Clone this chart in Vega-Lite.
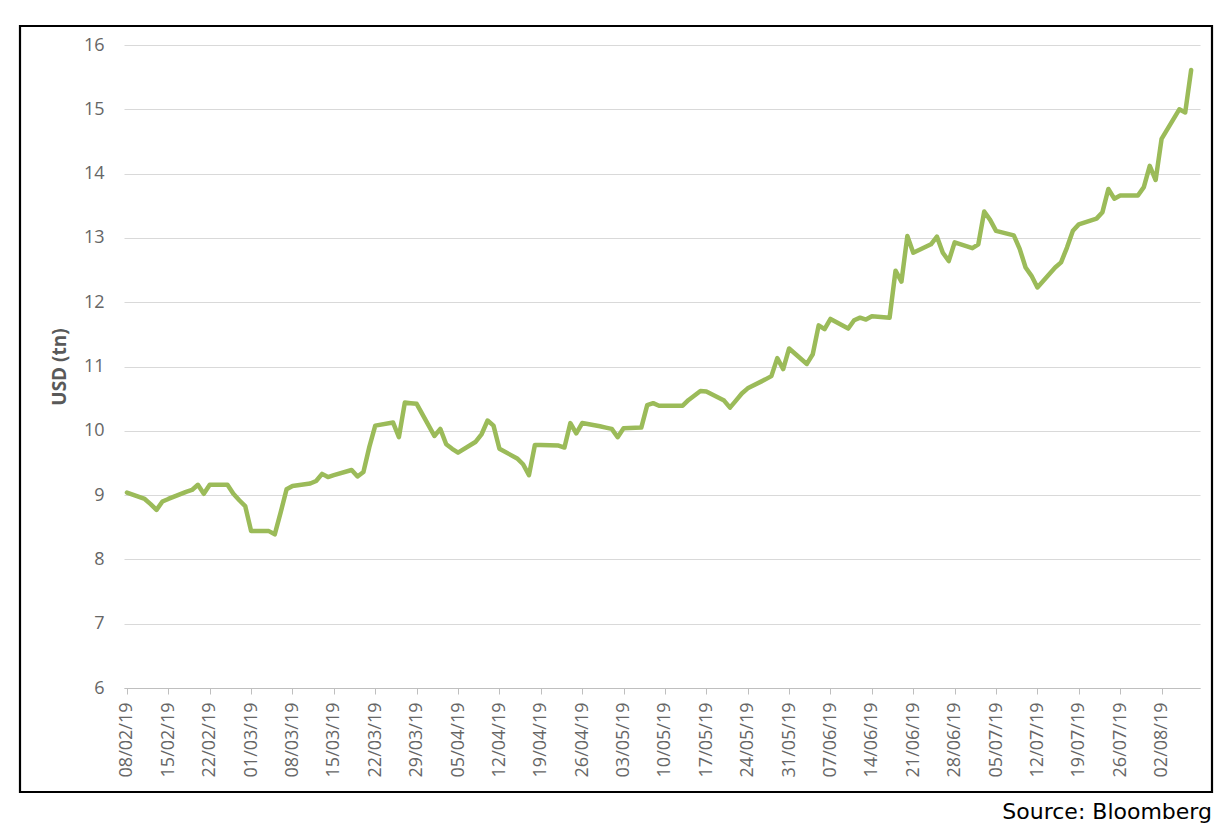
{
  "$schema": "https://vega.github.io/schema/vega-lite/v6.json",
  "autosize": "none",
  "padding": {"left": 20, "top": 26, "right": 20, "bottom": 44},
  "width": 1192,
  "height": 766,
  "background": "white",
  "config": {
    "view": {"stroke": "#000000", "strokeWidth": 2.2},
    "font": "Open Sans"
  },
  "title": {
    "text": "Source: Bloomberg",
    "orient": "bottom",
    "anchor": "end",
    "frame": "group",
    "font": "DejaVu Sans",
    "fontSize": 22,
    "fontWeight": "normal",
    "color": "#000000",
    "offset": 10
  },
  "data": {
    "values": [
      {"date": "2019-02-08", "usd": 9.04},
      {"date": "2019-02-11", "usd": 8.94},
      {"date": "2019-02-12", "usd": 8.86},
      {"date": "2019-02-13", "usd": 8.77},
      {"date": "2019-02-14", "usd": 8.90},
      {"date": "2019-02-15", "usd": 8.94},
      {"date": "2019-02-18", "usd": 9.05},
      {"date": "2019-02-19", "usd": 9.08},
      {"date": "2019-02-20", "usd": 9.16},
      {"date": "2019-02-21", "usd": 9.02},
      {"date": "2019-02-22", "usd": 9.16},
      {"date": "2019-02-25", "usd": 9.16},
      {"date": "2019-02-26", "usd": 9.02},
      {"date": "2019-02-27", "usd": 8.92},
      {"date": "2019-02-28", "usd": 8.83},
      {"date": "2019-03-01", "usd": 8.44},
      {"date": "2019-03-04", "usd": 8.44},
      {"date": "2019-03-05", "usd": 8.39},
      {"date": "2019-03-06", "usd": 8.73},
      {"date": "2019-03-07", "usd": 9.09},
      {"date": "2019-03-08", "usd": 9.14},
      {"date": "2019-03-11", "usd": 9.18},
      {"date": "2019-03-12", "usd": 9.22},
      {"date": "2019-03-13", "usd": 9.33},
      {"date": "2019-03-14", "usd": 9.28},
      {"date": "2019-03-15", "usd": 9.31},
      {"date": "2019-03-18", "usd": 9.39},
      {"date": "2019-03-19", "usd": 9.29},
      {"date": "2019-03-20", "usd": 9.36},
      {"date": "2019-03-21", "usd": 9.75},
      {"date": "2019-03-22", "usd": 10.08},
      {"date": "2019-03-25", "usd": 10.13},
      {"date": "2019-03-26", "usd": 9.90},
      {"date": "2019-03-27", "usd": 10.44},
      {"date": "2019-03-28", "usd": 10.43},
      {"date": "2019-03-29", "usd": 10.42},
      {"date": "2019-04-01", "usd": 9.92},
      {"date": "2019-04-02", "usd": 10.03},
      {"date": "2019-04-03", "usd": 9.79},
      {"date": "2019-04-04", "usd": 9.72},
      {"date": "2019-04-05", "usd": 9.66},
      {"date": "2019-04-08", "usd": 9.83},
      {"date": "2019-04-09", "usd": 9.95},
      {"date": "2019-04-10", "usd": 10.16},
      {"date": "2019-04-11", "usd": 10.08},
      {"date": "2019-04-12", "usd": 9.72},
      {"date": "2019-04-15", "usd": 9.57},
      {"date": "2019-04-16", "usd": 9.48},
      {"date": "2019-04-17", "usd": 9.31},
      {"date": "2019-04-18", "usd": 9.78},
      {"date": "2019-04-19", "usd": 9.78},
      {"date": "2019-04-22", "usd": 9.77},
      {"date": "2019-04-23", "usd": 9.74},
      {"date": "2019-04-24", "usd": 10.12},
      {"date": "2019-04-25", "usd": 9.96},
      {"date": "2019-04-26", "usd": 10.12},
      {"date": "2019-04-29", "usd": 10.07},
      {"date": "2019-04-30", "usd": 10.05},
      {"date": "2019-05-01", "usd": 10.03},
      {"date": "2019-05-02", "usd": 9.90},
      {"date": "2019-05-03", "usd": 10.04},
      {"date": "2019-05-06", "usd": 10.05},
      {"date": "2019-05-07", "usd": 10.40},
      {"date": "2019-05-08", "usd": 10.43},
      {"date": "2019-05-09", "usd": 10.39},
      {"date": "2019-05-10", "usd": 10.39},
      {"date": "2019-05-13", "usd": 10.39},
      {"date": "2019-05-14", "usd": 10.48},
      {"date": "2019-05-15", "usd": 10.55},
      {"date": "2019-05-16", "usd": 10.62},
      {"date": "2019-05-17", "usd": 10.61},
      {"date": "2019-05-20", "usd": 10.47},
      {"date": "2019-05-21", "usd": 10.36},
      {"date": "2019-05-22", "usd": 10.47},
      {"date": "2019-05-23", "usd": 10.58},
      {"date": "2019-05-24", "usd": 10.66},
      {"date": "2019-05-27", "usd": 10.80},
      {"date": "2019-05-28", "usd": 10.85},
      {"date": "2019-05-29", "usd": 11.13},
      {"date": "2019-05-30", "usd": 10.96},
      {"date": "2019-05-31", "usd": 11.28},
      {"date": "2019-06-03", "usd": 11.04},
      {"date": "2019-06-04", "usd": 11.19},
      {"date": "2019-06-05", "usd": 11.64},
      {"date": "2019-06-06", "usd": 11.58},
      {"date": "2019-06-07", "usd": 11.74},
      {"date": "2019-06-10", "usd": 11.59},
      {"date": "2019-06-11", "usd": 11.72},
      {"date": "2019-06-12", "usd": 11.76},
      {"date": "2019-06-13", "usd": 11.73},
      {"date": "2019-06-14", "usd": 11.78},
      {"date": "2019-06-17", "usd": 11.76},
      {"date": "2019-06-18", "usd": 12.49},
      {"date": "2019-06-19", "usd": 12.32},
      {"date": "2019-06-20", "usd": 13.03},
      {"date": "2019-06-21", "usd": 12.77},
      {"date": "2019-06-24", "usd": 12.90},
      {"date": "2019-06-25", "usd": 13.02},
      {"date": "2019-06-26", "usd": 12.77},
      {"date": "2019-06-27", "usd": 12.64},
      {"date": "2019-06-28", "usd": 12.93},
      {"date": "2019-07-01", "usd": 12.84},
      {"date": "2019-07-02", "usd": 12.90},
      {"date": "2019-07-03", "usd": 13.41},
      {"date": "2019-07-04", "usd": 13.28},
      {"date": "2019-07-05", "usd": 13.11},
      {"date": "2019-07-08", "usd": 13.04},
      {"date": "2019-07-09", "usd": 12.83},
      {"date": "2019-07-10", "usd": 12.54},
      {"date": "2019-07-11", "usd": 12.41},
      {"date": "2019-07-12", "usd": 12.23},
      {"date": "2019-07-15", "usd": 12.54},
      {"date": "2019-07-16", "usd": 12.62},
      {"date": "2019-07-17", "usd": 12.85},
      {"date": "2019-07-18", "usd": 13.11},
      {"date": "2019-07-19", "usd": 13.21},
      {"date": "2019-07-22", "usd": 13.30},
      {"date": "2019-07-23", "usd": 13.40},
      {"date": "2019-07-24", "usd": 13.76},
      {"date": "2019-07-25", "usd": 13.61},
      {"date": "2019-07-26", "usd": 13.66},
      {"date": "2019-07-29", "usd": 13.66},
      {"date": "2019-07-30", "usd": 13.79},
      {"date": "2019-07-31", "usd": 14.12},
      {"date": "2019-08-01", "usd": 13.90},
      {"date": "2019-08-02", "usd": 14.54},
      {"date": "2019-08-05", "usd": 15.00},
      {"date": "2019-08-06", "usd": 14.95},
      {"date": "2019-08-07", "usd": 15.61}
    ]
  },
  "mark": {"type": "line", "color": "#9bbb59", "strokeWidth": 4.5, "strokeJoin": "round", "strokeCap": "round"},
  "encoding": {
    "x": {
      "field": "date",
      "type": "temporal",
      "scale": {
        "type": "utc",
        "domain": [
          {"year": 2019, "month": 2, "date": 7, "hours": 12, "utc": true},
          {"year": 2019, "month": 8, "date": 8, "hours": 12, "utc": true}
        ],
        "range": [104, 1180],
        "nice": false
      },
      "axis": {
        "orient": "bottom",
        "offset": -104,
        "title": null,
        "grid": false,
        "values": [
          {"year": 2019, "month": 2, "date": 8, "utc": true},
          {"year": 2019, "month": 2, "date": 15, "utc": true},
          {"year": 2019, "month": 2, "date": 22, "utc": true},
          {"year": 2019, "month": 3, "date": 1, "utc": true},
          {"year": 2019, "month": 3, "date": 8, "utc": true},
          {"year": 2019, "month": 3, "date": 15, "utc": true},
          {"year": 2019, "month": 3, "date": 22, "utc": true},
          {"year": 2019, "month": 3, "date": 29, "utc": true},
          {"year": 2019, "month": 4, "date": 5, "utc": true},
          {"year": 2019, "month": 4, "date": 12, "utc": true},
          {"year": 2019, "month": 4, "date": 19, "utc": true},
          {"year": 2019, "month": 4, "date": 26, "utc": true},
          {"year": 2019, "month": 5, "date": 3, "utc": true},
          {"year": 2019, "month": 5, "date": 10, "utc": true},
          {"year": 2019, "month": 5, "date": 17, "utc": true},
          {"year": 2019, "month": 5, "date": 24, "utc": true},
          {"year": 2019, "month": 5, "date": 31, "utc": true},
          {"year": 2019, "month": 6, "date": 7, "utc": true},
          {"year": 2019, "month": 6, "date": 14, "utc": true},
          {"year": 2019, "month": 6, "date": 21, "utc": true},
          {"year": 2019, "month": 6, "date": 28, "utc": true},
          {"year": 2019, "month": 7, "date": 5, "utc": true},
          {"year": 2019, "month": 7, "date": 12, "utc": true},
          {"year": 2019, "month": 7, "date": 19, "utc": true},
          {"year": 2019, "month": 7, "date": 26, "utc": true},
          {"year": 2019, "month": 8, "date": 2, "utc": true}
        ],
        "format": "%d/%m/%y",
        "labelAngle": 270,
        "labelAlign": "right",
        "labelBaseline": "middle",
        "labelFont": "Open Sans",
        "labelFontSize": 18,
        "labelColor": "#666666",
        "labelPadding": 8,
        "labelOverlap": false,
        "labelFlush": false,
        "ticks": true,
        "tickSize": 6,
        "tickColor": "#bfbfbf",
        "domain": true,
        "domainColor": "#bfbfbf",
        "domainWidth": 1
      }
    },
    "y": {
      "field": "usd",
      "type": "quantitative",
      "scale": {"domain": [6, 16], "range": [662, 19], "nice": false, "zero": false},
      "axis": {
        "orient": "left",
        "offset": -104,
        "values": [6, 7, 8, 9, 10, 11, 12, 13, 14, 15, 16],
        "title": "USD (tn)",
        "titleFont": "Open Sans",
        "titleFontSize": 19,
        "titleFontWeight": "bold",
        "titleColor": "#595959",
        "titlePadding": 14,
        "labelFont": "Open Sans",
        "labelFontSize": 18,
        "labelColor": "#666666",
        "labelPadding": 20,
        "ticks": false,
        "domain": false,
        "grid": true,
        "gridColor": "#d9d9d9",
        "gridWidth": 1
      }
    }
  }
}
